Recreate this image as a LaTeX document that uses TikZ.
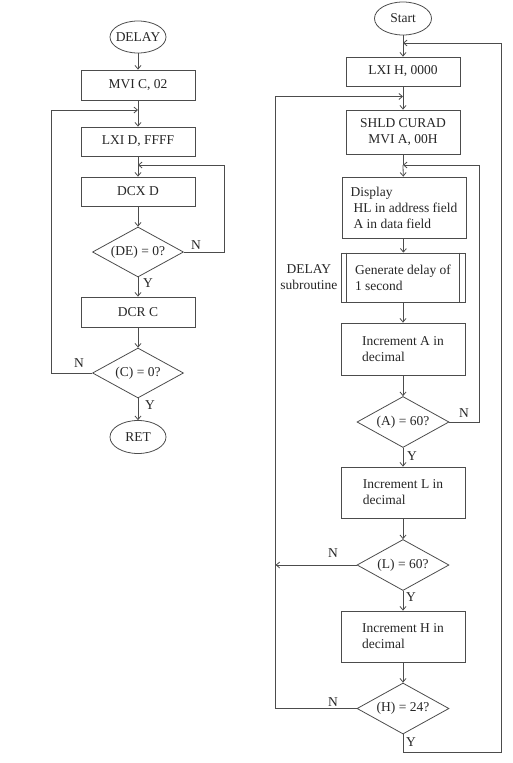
\documentclass[tikz,border=0pt]{standalone}
\usepackage{fontspec}
\setmainfont{Liberation Serif}
\usetikzlibrary{arrows.meta,positioning,shapes.geometric}

\begin{document}
\begin{tikzpicture}[x=1pt,y=-1pt,font=\fontsize{13.5}{16}\selectfont,
  box/.style={draw=black!70,line width=0.8pt,text=black!85,align=center,inner sep=0pt,minimum width=114pt,minimum height=30pt},
  wbox/.style={box,align=left,minimum width=124pt},
  dec/.style={draw=black!70,line width=0.8pt,text=black!85,shape=diamond,aspect=1.8,inner sep=0pt,minimum width=91pt,minimum height=50pt},
  term/.style={draw=black!70,line width=0.8pt,text=black!85,shape=ellipse,inner xsep=-4pt,inner ysep=0pt,minimum width=56pt,minimum height=32pt},
  lab/.style={text=black!85,inner sep=0pt},
  arr/.style={-{Straight Barb[length=3.5pt,width=6pt]},draw=black!70,line width=0.8pt},
  ln/.style={draw=black!70,line width=0.8pt}]
\useasboundingbox (0,0) rectangle (512,763);
% DELAY subroutine
\node[term] (delay) at (138,37) {DELAY};
\node[box] (mvic) at (138,85) {MVI C, 02};
\node[box,minimum height=29pt] (lxid) at (138,141.5) {LXI D, FFFF};
\node[box,minimum height=29pt] (dcxd) at (138,191.5) {DCX D};
\node[dec] (qde) at (138,252) {(DE) = 0?};
\node[box] (dcrc) at (138,312) {DCR C};
\node[dec] (qc) at (138,373) {(C) = 0?};
\node[term,minimum height=33pt] (ret) at (138,437) {RET};
\coordinate (m1) at (138,110);
\coordinate (m2) at (138,165);
\draw[arr] (delay)--(mvic);
\draw[ln] (mvic)--(m1);\draw[arr] (m1)--(lxid);
\draw[ln] (lxid)--(m2);\draw[arr] (m2)--(dcxd);
\draw[arr] (dcxd)--(qde);
\draw[arr] (qde.east)-- ++(40,0) |- (m2);
\draw[arr] (qde)--(dcrc);\draw[arr] (dcrc)--(qc);
\draw[arr] (qc.west)-- ++(-40.5,0) |- (m1);
\draw[arr] (qc)--(ret);
\node[lab] (nde) at (196,245) {N};
\node[lab] (yde) at (148,283) {Y};
\node[lab] (nc) at (79,363) {N};
\node[lab] (yc) at (150,405) {Y};
% main program
\node[term,minimum width=57pt,minimum height=33pt] (start) at (403,18.5) {Start};
\node[box,minimum height=29pt] (lxih) at (403,71.5) {LXI H, 0000};
\node[box,minimum height=44pt] (shld) at (403,132) {SHLD CURAD\\MVI A, 00H};
\node[wbox,minimum height=61pt] (disp) at (404,207.5) {Display\\\hspace{3pt}HL in address field\\\hspace{3pt}A in data field};
\node[wbox,minimum height=49pt] (gen) at (403,277.5) {Generate delay of\\1 second};
\draw[ln] ([xshift=6pt]gen.north west)--([xshift=6pt]gen.south west);
\draw[ln] ([xshift=-6pt]gen.north east)--([xshift=-6pt]gen.south east);
\node[lab,align=center,left=3pt of gen] (sub) {DELAY\\subroutine};
\node[wbox,minimum height=52pt] (inca) at (403,349) {Increment A in\\decimal};
\node[dec,minimum height=51pt,minimum width=92pt] (qa) at (403,422) {(A) = 60?};
\node[wbox,minimum height=51pt] (incl) at (403,492.5) {Increment L in\\decimal};
\node[dec,minimum height=51pt,minimum width=92pt] (ql) at (403,565) {(L) = 60?};
\node[wbox,minimum height=51pt] (inch) at (403,636.5) {Increment H in\\decimal};
\node[dec,minimum height=51pt,minimum width=92pt] (qh) at (403,708.5) {(H) = 24?};
\coordinate (r1) at (403,43);
\coordinate (r2) at (403,96.5);
\coordinate (r3) at (403,165);
\draw[ln] (start)--(r1);\draw[arr] (r1)--(lxih);
\draw[ln] (lxih)--(r2);\draw[arr] (r2)--(shld);
\draw[ln] (shld)--(r3);\draw[arr] (r3)--(disp);
\draw[arr] (disp)--(gen);\draw[arr] (gen)--(inca);\draw[arr] (inca)--(qa);
\draw[arr] (qa.east)-- ++(30,0) |- (r3);
\draw[arr] (qa)--(incl);\draw[arr] (incl)--(ql);
\draw[arr] (ql.west)-- ++(-81,0);
\draw[arr] (ql)--(inch);\draw[arr] (inch)--(qh);
\draw[arr] (qh.west)-- ++(-81,0) |- (r2);
\draw[arr] (qh.south)-- ++(0,18) -- ++(98,0) |- (r1);
\node[lab] (na) at (464,413) {N};
\node[lab] (ya) at (412,456) {Y};
\node[lab] (nl) at (333,553) {N};
\node[lab] (yl) at (411,597) {Y};
\node[lab] (nh) at (333,702) {N};
\node[lab] (yh) at (411,742) {Y};
\end{tikzpicture}
\end{document}
